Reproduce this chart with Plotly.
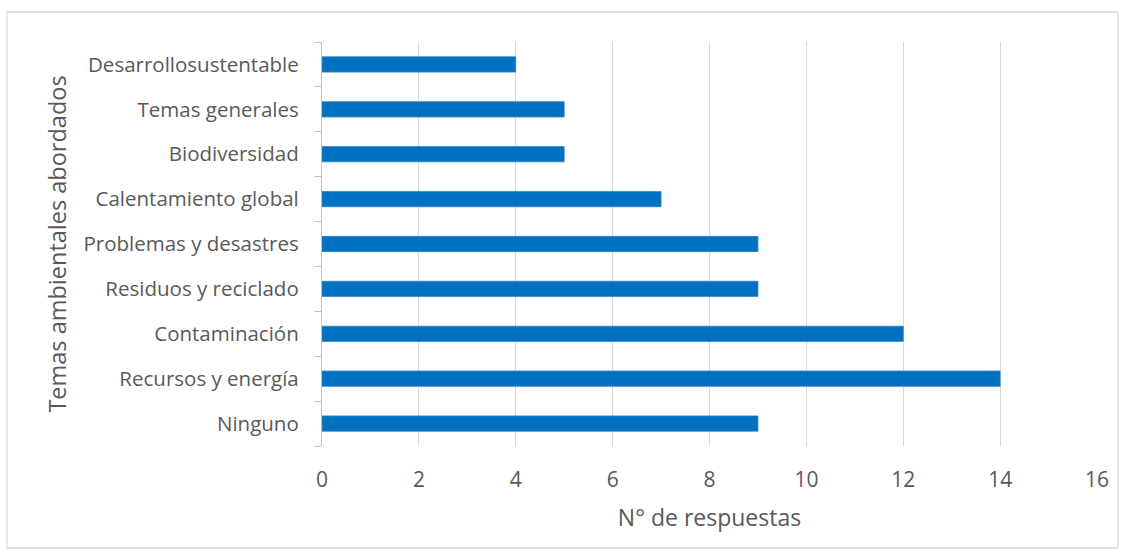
import plotly.graph_objects as go

# Environmental topics (bottom to top) and number of responses
temas = [
    "Ninguno",
    "Recursos y energía",
    "Contaminación",
    "Residuos y reciclado",
    "Problemas y desastres",
    "Calentamiento global",
    "Biodiversidad",
    "Temas generales",
    "Desarrollosustentable",
]
respuestas = [9, 14, 12, 9, 9, 7, 5, 5, 4]
x_ticks = [0, 2, 4, 6, 8, 10, 12, 14, 16]

W, H = 1126, 556
L, R, T, B = 322, 29, 42, 110
pw, ph = W - L - R, H - T - B

font_family = "Open Sans, Liberation Sans, sans-serif"
text_color = "#595959"

fig = go.Figure(
    go.Bar(
        x=respuestas,
        y=temas,
        orientation="h",
        width=0.34,
        marker=dict(color="#0070C0", line=dict(color="#2F83C7", width=0.8)),
    )
)

fig.update_layout(
    width=W,
    height=H,
    margin=dict(l=L, r=R, t=T, b=B),
    paper_bgcolor="white",
    plot_bgcolor="white",
    showlegend=False,
    font=dict(family=font_family, color=text_color, size=21),
    bargap=0.66,
)

fig.update_xaxes(
    range=[0, 16],
    tickvals=x_ticks,
    ticktext=[str(v) for v in x_ticks],
    showgrid=True,
    gridcolor="#d9d9d9",
    gridwidth=1.3,
    zeroline=False,
    showline=False,
    ticks="",
    ticklabelstandoff=19,
    tickfont=dict(size=21, color=text_color),
    title=dict(text="N° de respuestas", font=dict(size=23, color=text_color), standoff=17),
)

fig.update_yaxes(
    categoryorder="array",
    categoryarray=temas,
    showgrid=False,
    showline=True,
    linecolor="#bfbfbf",
    linewidth=1.3,
    ticks="outside",
    tickson="boundaries",
    ticklen=6,
    tickcolor="#bfbfbf",
    tickwidth=1.3,
    ticklabelstandoff=18,
    tickfont=dict(size=20.5, color=text_color),
    title=dict(text="Temas ambientales abordados", font=dict(size=23.5, color=text_color), standoff=10),
)

# Light gray frame around the whole chart
fig.add_shape(
    type="rect",
    xref="paper",
    yref="paper",
    x0=(7 - L) / pw,
    x1=(1118 - L) / pw,
    y0=(H - B - 548) / ph,
    y1=(H - B - 12) / ph,
    line=dict(color="#d9d9d9", width=1.3),
    fillcolor="rgba(0,0,0,0)",
    layer="below",
)

fig.write_html("out.html")
